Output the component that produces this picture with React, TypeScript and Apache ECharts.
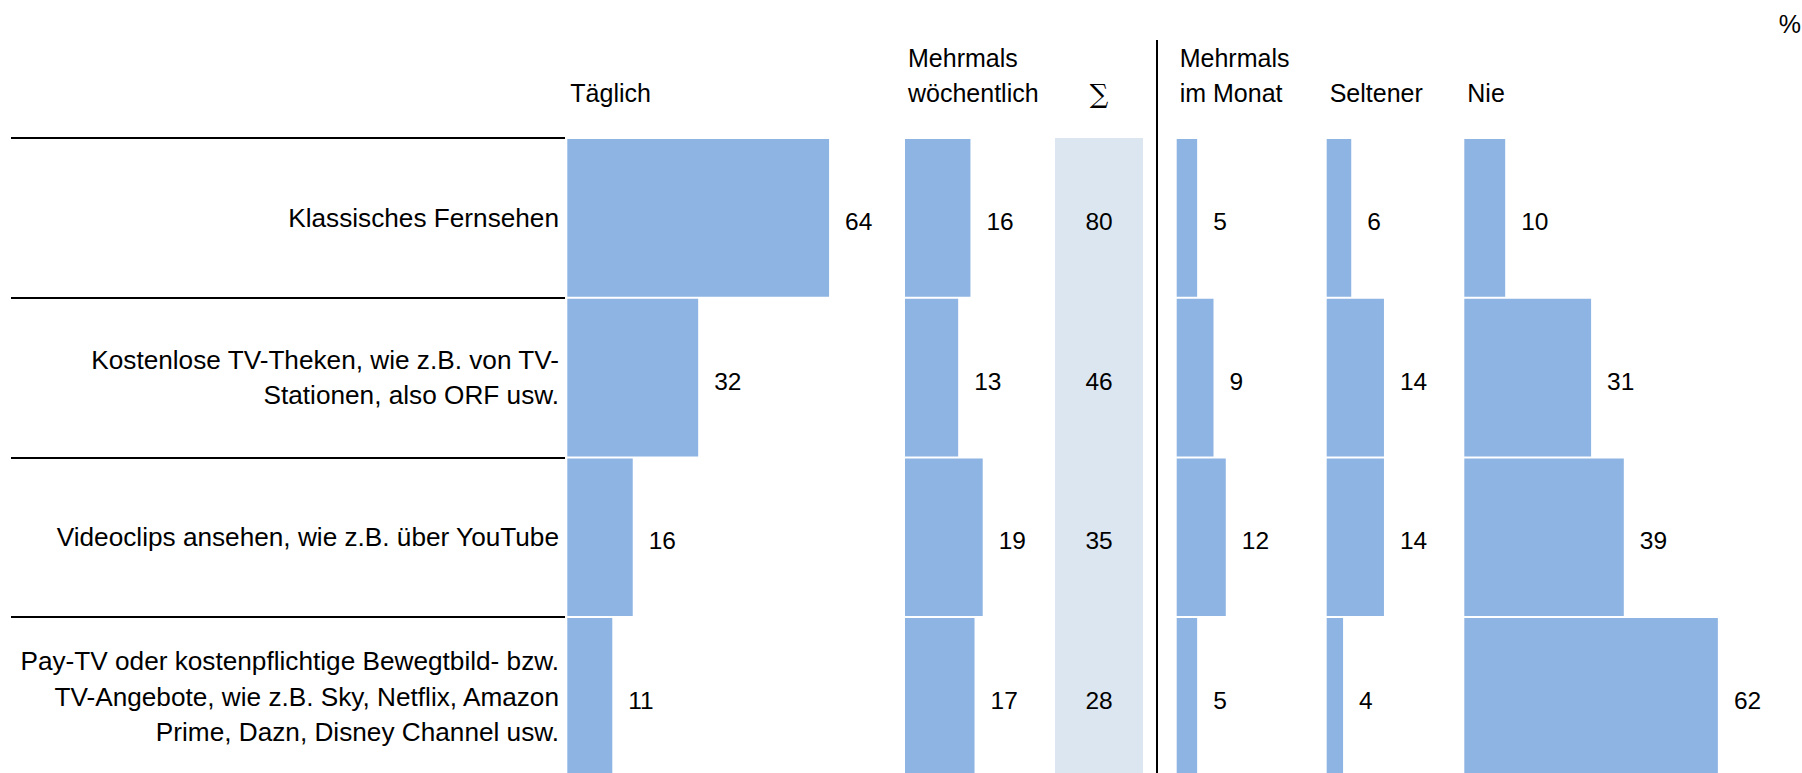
import React, { useEffect, useRef } from "react";
import * as echarts from "echarts";

const categories = [
  "Klassisches Fernsehen",
  "Kostenlose TV-Theken, wie z.B. von TV-\nStationen, also ORF usw.",
  "Videoclips ansehen, wie z.B. über YouTube",
  "Pay-TV oder kostenpflichtige Bewegtbild- bzw.\nTV-Angebote, wie z.B. Sky, Netflix, Amazon\nPrime, Dazn, Disney Channel usw.",
];
const daily = [64, 32, 16, 11];
const weekly = [16, 13, 19, 17];
const sigma = [80, 46, 35, 28];
const monthly = [5, 9, 12, 5];
const rarely = [6, 14, 14, 4];
const never = [10, 31, 39, 62];
const headers = ["Täglich", "Mehrmals\nwöchentlich", "∑", "Mehrmals\nim Monat", "Seltener", "Nie"];
const unitLabel = "%";

const FONT = "'Liberation Sans', Arial, sans-serif";
const BAR = "#8EB4E3";
const BAND = "#DCE6F1";
const TOP = 138;
const ROW = 159.7;
const H = ROW * 4;
const AXIS_MAX = 80;
const PX_PER_UNIT = 4.09;
const TEXT_DY = 3.5;

const barColumns = [
  { data: daily, left: 567.3, header: headers[0] },
  { data: weekly, left: 905, header: headers[1] },
  { data: monthly, left: 1176.7, header: headers[3] },
  { data: rarely, left: 1326.7, header: headers[4] },
  { data: never, left: 1464.3, header: headers[5] },
];

export default function App() {
  const ref = useRef<HTMLDivElement>(null);
  useEffect(() => {
    if (!ref.current) return;
    const chart = echarts.init(ref.current, null, { renderer: "svg" });

    const grids: any[] = [];
    const xAxes: any[] = [];
    const yAxes: any[] = [];
    const series: any[] = [];

    // label grid
    grids.push({ left: 11, top: TOP, width: 554, height: H });
    xAxes.push({ gridIndex: 0, type: "value", min: 0, max: 100, show: false });
    yAxes.push({
      gridIndex: 0,
      type: "category",
      data: categories,
      inverse: true,
      position: "right",
      axisLine: { show: false },
      axisTick: { show: false },
      axisLabel: {
        inside: true,
        margin: 6,
        interval: 0,
        fontSize: 26.2,
        lineHeight: 35.5,
        color: "#000",
        fontFamily: FONT,
        align: "right",
        padding: [TEXT_DY * 2, 0, 0, 0],
      },
      splitLine: { show: true, interval: 0, lineStyle: { color: "#000", width: 2 } },
    });

    barColumns.forEach((col) => {
      const gi = grids.length;
      grids.push({ left: col.left, top: TOP, width: AXIS_MAX * PX_PER_UNIT, height: H });
      xAxes.push({ gridIndex: gi, type: "value", min: 0, max: AXIS_MAX, show: false });
      yAxes.push({ gridIndex: gi, type: "category", data: categories, inverse: true, show: false });
      series.push({
        type: "bar",
        xAxisIndex: gi,
        yAxisIndex: gi,
        data: col.data,
        barCategoryGap: "1.25%",
        itemStyle: { color: BAR },
        label: {
          show: true,
          position: "right",
          distance: 16,
          offset: [0, TEXT_DY],
          color: "#000",
          fontSize: 24.5,
          fontFamily: FONT,
        },
      });
    });

    // sigma band
    const sg = grids.length;
    grids.push({
      left: 1055,
      top: TOP,
      width: 88,
      height: H,
      show: true,
      backgroundColor: BAND,
      borderWidth: 0,
    });
    xAxes.push({ gridIndex: sg, type: "value", min: -1, max: 1, show: false });
    yAxes.push({ gridIndex: sg, type: "category", data: categories, inverse: true, show: false });
    series.push({
      type: "scatter",
      xAxisIndex: sg,
      yAxisIndex: sg,
      symbolSize: 1,
      itemStyle: { color: "rgba(0,0,0,0)", opacity: 1 },
      data: sigma.map((v, i) => [0, i, v]),
      label: {
        show: true,
        position: "inside",
        offset: [0, TEXT_DY],
        formatter: (p: any) => String(p.value[2]),
        color: "#000",
        opacity: 1,
        fontSize: 24.5,
        fontFamily: FONT,
      },
    });

    const gfx: any[] = barColumns.map((col) => ({
      type: "text",
      x: col.left + 3,
      y: 110,
      style: {
        text: col.header,
        font: `25px ${FONT}`,
        fill: "#000",
        textAlign: "left",
        textVerticalAlign: "bottom",
        lineHeight: 35,
      },
    }));
    gfx.push({
      type: "text",
      x: 1099,
      y: 94,
      style: {
        text: headers[2],
        font: `26px 'DejaVu Serif', 'Liberation Serif', serif`,
        fill: "#000",
        textAlign: "center",
        textVerticalAlign: "middle",
      },
    });
    gfx.push({
      type: "text",
      x: 1801,
      y: 11,
      style: {
        text: unitLabel,
        font: `25px ${FONT}`,
        fill: "#000",
        textAlign: "right",
        textVerticalAlign: "top",
      },
    });
    gfx.push({
      type: "line",
      shape: { x1: 1157, y1: 40, x2: 1157, y2: 800 },
      style: { stroke: "#000", lineWidth: 2 },
    });

    chart.setOption({
      animation: false,
      backgroundColor: "#fff",
      grid: grids,
      xAxis: xAxes,
      yAxis: yAxes,
      series,
      graphic: gfx,
    });
    return () => chart.dispose();
  }, []);
  return (
    <div
      ref={ref}
      style={{ position: "fixed", left: 0, top: 0, width: 1802, height: 800 }}
    />
  );
}
